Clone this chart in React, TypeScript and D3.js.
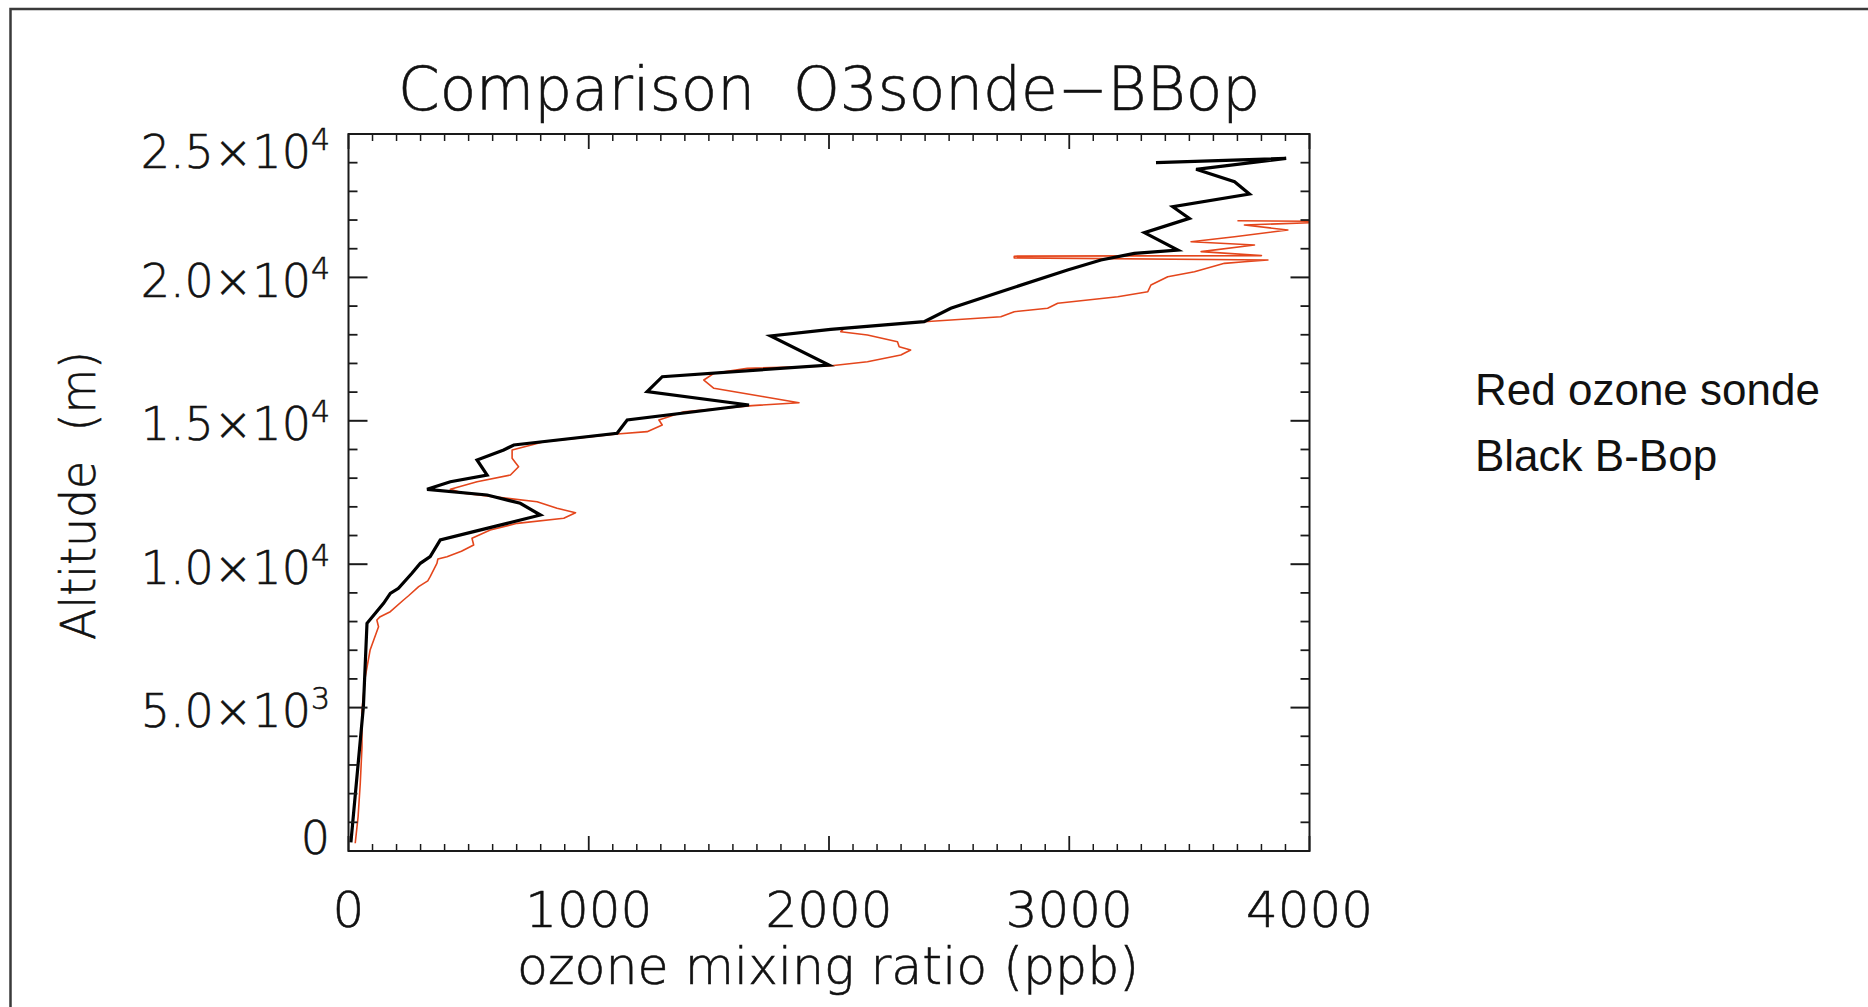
import React from 'react';
import * as d3 from 'd3';

// ---- data ----
const xTicks = [0, 1000, 2000, 3000, 4000];
const xTickLabels = ['0', '1000', '2000', '3000', '4000'];
const yTicks = [0, 5000, 10000, 15000, 20000, 25000];
const yTickMantissa = ['0', '5.0', '1.0', '1.5', '2.0', '2.5'];
const yTickExponent = ['', '3', '4', '4', '4', '4'];

// Red: ozone sonde (ozone ppb, altitude m)
const sondeOzone = [28, 40, 49, 56, 56, 70, 90, 125, 118, 132, 174, 229, 250, 292, 330, 340, 368, 372, 410, 470, 521, 514, 590, 702, 896, 945, 868, 785, 479, 424, 535, 674, 708, 681, 681, 813, 1118, 1243, 1306, 1292, 1396, 1680, 1875, 1729, 1521, 1479, 1521, 1660, 2000, 2160, 2299, 2340, 2292, 2285, 2160, 2049, 2063, 2396, 2715, 2771, 2910, 2952, 3202, 3327, 3340, 3410, 3521, 3646, 3729, 3827, 2771, 2771, 3800, 3549, 3771, 3507, 3688, 3910, 3729, 4006, 4100, 3700];
const sondeAlt = [270, 1200, 2360, 3600, 4916, 6077, 7008, 7821, 8054, 8170, 8344, 8752, 8900, 9216, 9420, 9565, 10031, 10180, 10262, 10450, 10669, 10903, 11192, 11425, 11600, 11796, 11949, 12180, 12472, 12610, 12877, 13110, 13400, 13692, 13982, 14272, 14540, 14621, 14853, 15028, 15318, 15530, 15632, 15841, 16132, 16422, 16655, 16829, 16911, 17061, 17294, 17468, 17584, 17758, 17991, 18107, 18224, 18456, 18630, 18804, 18922, 19096, 19328, 19502, 19734, 20025, 20199, 20490, 20548, 20606, 20680, 20740, 20760, 20900, 21129, 21245, 21420, 21653, 21827, 21908, 21950, 21975];

// Black: B-Bop
const bbopOzone = [10, 62, 77, 146, 174, 208, 264, 299, 340, 382, 521, 660, 799, 715, 577, 327, 424, 577, 535, 646, 688, 1118, 1160, 1667, 1243, 1306, 2000, 1757, 2007, 2396, 2507, 2715, 2993, 3132, 3271, 3452, 3313, 3500, 3431, 3750, 3688, 3528, 3903, 3361];
const bbopAlt = [300, 5031, 7940, 8637, 8985, 9159, 9682, 10031, 10262, 10844, 11134, 11425, 11715, 12123, 12413, 12610, 12877, 13110, 13633, 13982, 14156, 14563, 15028, 15551, 16015, 16538, 16945, 17957, 18190, 18456, 18922, 19502, 20258, 20606, 20839, 20955, 21560, 22059, 22465, 22908, 23337, 23768, 24152, 24000];

const titleText = 'Comparison  O3sonde\u2212BBop';
const xTitle = 'ozone mixing ratio (ppb)';
const yTitle = 'Altitude  (m)';
const legendLines = ['Red ozone sonde', 'Black B-Bop'];

// ---- layout ----
const W = 1868;
const H = 1007;
const L = 348.5, R = 1309.5, T = 134, B = 851;
const HFONT = '"DejaVu Sans", sans-serif';

export default function App() {
  const x = d3.scaleLinear().domain([0, 4000]).range([L, R]);
  const y = d3.scaleLinear().domain([0, 25000]).range([B, T]);

  const xMinor = d3.range(0, 4001, 100).filter((v) => v % 1000 !== 0);
  const yMinor = d3.range(0, 25001, 1000).filter((v) => v % 5000 !== 0);

  const sonde = sondeOzone.map((v, i) => [v, sondeAlt[i]] as [number, number]);
  const bbop = bbopOzone.map((v, i) => [v, bbopAlt[i]] as [number, number]);
  const line = d3.line<[number, number]>().x((d) => x(d[0])).y((d) => y(d[1]));

  const ax = '#1a1a1a';
  const txt = '#111';
  const yLabelOffset = (v: number) => (v === 25000 ? 17.5 : v === 0 ? -14 : 3);
  const thin = { stroke: txt, strokeWidth: 0.6 };

  return (
    <div style={{ position: 'fixed', left: 0, top: 0, width: W, height: H, background: '#fff' }}>
      <svg width={W} height={H} viewBox={`0 0 ${W} ${H}`} style={{ display: 'block' }}>
        <rect x={0} y={0} width={W} height={H} fill="#fff" />
        {/* outer frame */}
        <path d={`M10.5,${H + 10} L10.5,9 L${W + 10},9`} fill="none" stroke="#3a3a3a" strokeWidth={2.5} />

        <defs>
          <clipPath id="plotclip">
            <rect x={L} y={T} width={R - L} height={B - T} />
          </clipPath>
        </defs>

        {/* title */}
        <text x={(L + R) / 2} y={109.5} textAnchor="middle" fontFamily={HFONT} fontWeight={200} fontSize={60}
          textLength={862} lengthAdjust="spacingAndGlyphs" fill={txt} {...thin} style={{ whiteSpace: 'pre' }}>
          {titleText}
        </text>

        {/* data */}
        <g clipPath="url(#plotclip)">
          <path d={line(sonde) || ''} fill="none" stroke="#e4461c" strokeWidth={1.6} strokeLinejoin="round" />
          <path d={line(bbop) || ''} fill="none" stroke="#000" strokeWidth={3.2} strokeLinejoin="miter" />
        </g>

        {/* axes box */}
        <rect x={L} y={T} width={R - L} height={B - T} fill="none" stroke={ax} strokeWidth={2} />

        {/* x ticks */}
        {xTicks.map((v) => (
          <g key={'xt' + v}>
            <line x1={x(v)} x2={x(v)} y1={B} y2={B - 15} stroke={ax} strokeWidth={1.8} />
            <line x1={x(v)} x2={x(v)} y1={T} y2={T + 15} stroke={ax} strokeWidth={1.8} />
          </g>
        ))}
        {xMinor.map((v) => (
          <g key={'xm' + v}>
            <line x1={x(v)} x2={x(v)} y1={B} y2={B - 7} stroke={ax} strokeWidth={1.5} />
            <line x1={x(v)} x2={x(v)} y1={T} y2={T + 7} stroke={ax} strokeWidth={1.5} />
          </g>
        ))}
        {/* y ticks */}
        {yTicks.map((v) => (
          <g key={'yt' + v}>
            <line x1={L} x2={L + 19} y1={y(v)} y2={y(v)} stroke={ax} strokeWidth={2} />
            <line x1={R} x2={R - 19} y1={y(v)} y2={y(v)} stroke={ax} strokeWidth={2} />
          </g>
        ))}
        {yMinor.map((v) => (
          <g key={'ym' + v}>
            <line x1={L} x2={L + 9} y1={y(v)} y2={y(v)} stroke={ax} strokeWidth={1.8} />
            <line x1={R} x2={R - 9} y1={y(v)} y2={y(v)} stroke={ax} strokeWidth={1.8} />
          </g>
        ))}

        {/* x tick labels */}
        {xTicks.map((v, i) => (
          <text key={'xl' + v} x={x(v)} y={927} textAnchor="middle" fontFamily={HFONT} fontWeight={200}
            fontSize={50} fill={txt} {...thin}>
            {xTickLabels[i]}
          </text>
        ))}
        {/* y tick labels */}
        {yTicks.map((v, i) => (
          <text key={'yl' + v} x={330} y={y(v) + 16.5 + yLabelOffset(v)} textAnchor="end" fontFamily={HFONT}
            fontWeight={200} fontSize={46} fill={txt} {...thin}>
            <tspan>{yTickMantissa[i] + (yTickExponent[i] ? '\u00d710' : '')}</tspan>
            {yTickExponent[i] ? (
              <tspan dy={-18} fontSize={30}>{yTickExponent[i]}</tspan>
            ) : null}
          </text>
        ))}

        {/* axis titles */}
        <text x={(L + R) / 2 - 1} y={984} textAnchor="middle" fontFamily={HFONT} fontWeight={200} fontSize={52}
          textLength={622} lengthAdjust="spacingAndGlyphs" fill={txt} {...thin}>
          {xTitle}
        </text>
        <text transform={`translate(95,495.5) rotate(-90)`} textAnchor="middle" fontFamily={HFONT} fontWeight={200}
          fontSize={48} textLength={289} lengthAdjust="spacingAndGlyphs" fill={txt} {...thin}
          style={{ whiteSpace: 'pre' }}>
          {yTitle}
        </text>

        {/* legend text */}
        {legendLines.map((t, i) => (
          <text key={t} x={1475} y={405 + i * 65.5} fontFamily='"Liberation Sans", Arial, sans-serif' fontSize={44}
            fill={txt}>
            {t}
          </text>
        ))}
      </svg>
    </div>
  );
}
